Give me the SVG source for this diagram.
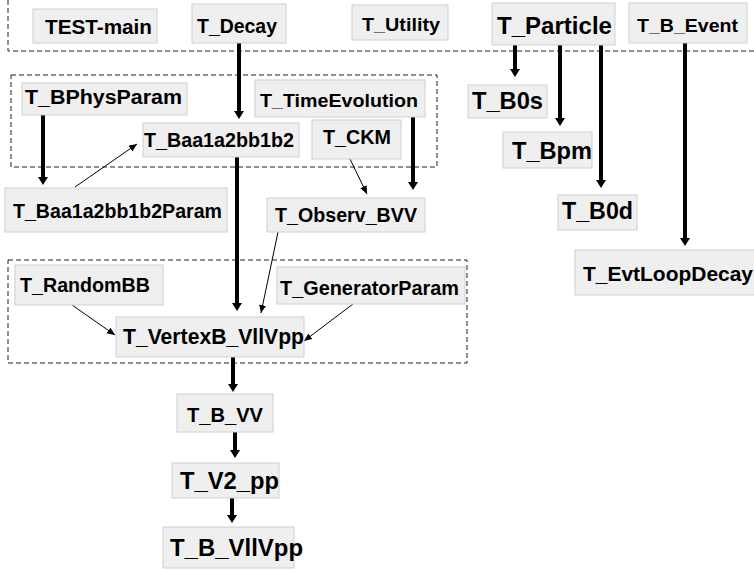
<svg xmlns="http://www.w3.org/2000/svg" width="754" height="571" viewBox="0 0 754 571">
<style>
.box{fill:#efefef;stroke:#d0d0d0;stroke-width:1}
.t{font-family:"Liberation Sans",Arial,sans-serif;font-weight:bold;fill:#000}
.grp{fill:none;stroke:#222;stroke-width:1;stroke-dasharray:5 3}
.thick{stroke:#000;stroke-width:4;fill:none;marker-end:url(#hk)}
.thin{stroke:#000;stroke-width:1;fill:none;marker-end:url(#hn)}
</style>
<defs>
<marker id="hk" markerUnits="userSpaceOnUse" markerWidth="10" markerHeight="10" refX="0" refY="5" orient="auto"><path d="M0,0 L8,5 L0,10 z" fill="#000"/></marker>
<marker id="hn" markerUnits="userSpaceOnUse" markerWidth="9" markerHeight="8" refX="8" refY="3.5" orient="auto"><path d="M0,0 L8,3.5 L0,7 z" fill="#000"/></marker>
</defs>
<rect width="754" height="571" fill="#fff"/>
<g id="groups">
<path class="grp" d="M8,0 V51 H754"/>
<rect class="grp" x="11" y="75" width="426" height="92"/>
<rect class="grp" x="8" y="260" width="459" height="103"/>
</g>
<g id="connectors">
<line class="thick" x1="239" y1="43" x2="239" y2="111"/>
<line class="thick" x1="43" y1="115" x2="43" y2="177"/>
<line class="thick" x1="237" y1="157" x2="237" y2="303"/>
<line class="thick" x1="413" y1="117" x2="413" y2="182"/>
<line class="thick" x1="515" y1="45" x2="515" y2="69"/>
<line class="thick" x1="560" y1="45" x2="560" y2="118"/>
<line class="thick" x1="601" y1="45" x2="601" y2="180"/>
<line class="thick" x1="685" y1="43" x2="685" y2="238"/>
<line class="thick" x1="233" y1="357" x2="233" y2="384"/>
<line class="thick" x1="235" y1="432" x2="235" y2="450"/>
<line class="thick" x1="232" y1="498" x2="232" y2="515"/>
<line class="thin" x1="75" y1="187" x2="137" y2="144"/>
<line class="thin" x1="350" y1="159" x2="367" y2="194"/>
<line class="thin" x1="278" y1="232" x2="261" y2="313"/>
<line class="thin" x1="72" y1="305" x2="115" y2="335"/>
<line class="thin" x1="353" y1="304" x2="304" y2="341"/>
</g>
<g id="TEST-main"><rect class="box" x="33" y="9" width="124" height="34"/><text class="t" x="45" y="34" font-size="20.5" textLength="107" lengthAdjust="spacingAndGlyphs">TEST-main</text></g>
<g id="T_Decay"><rect class="box" x="192" y="4" width="94" height="39"/><text class="t" x="197" y="33" font-size="19.5" textLength="80" lengthAdjust="spacingAndGlyphs">T_Decay</text></g>
<g id="T_Utility"><rect class="box" x="352" y="5" width="96" height="35"/><text class="t" x="362" y="31" font-size="19" textLength="78" lengthAdjust="spacingAndGlyphs">T_Utility</text></g>
<g id="T_Particle"><rect class="box" x="492" y="3" width="123" height="42"/><text class="t" x="497" y="34" font-size="24" textLength="115" lengthAdjust="spacingAndGlyphs">T_Particle</text></g>
<g id="T_B_Event"><rect class="box" x="629" y="3" width="118" height="40"/><text class="t" x="637" y="32" font-size="19" textLength="101" lengthAdjust="spacingAndGlyphs">T_B_Event</text></g>
<g id="T_BPhysParam"><rect class="box" x="22" y="83" width="165" height="32"/><text class="t" x="25" y="104" font-size="20" textLength="157" lengthAdjust="spacingAndGlyphs">T_BPhysParam</text></g>
<g id="T_TimeEvolution"><rect class="box" x="255" y="80" width="170" height="37"/><text class="t" x="260" y="107" font-size="18.5" textLength="158" lengthAdjust="spacingAndGlyphs">T_TimeEvolution</text></g>
<g id="T_Baa1a2bb1b2"><rect class="box" x="143" y="123" width="156" height="34"/><text class="t" x="144" y="147" font-size="19.5" textLength="150" lengthAdjust="spacingAndGlyphs">T_Baa1a2bb1b2</text></g>
<g id="T_CKM"><rect class="box" x="312" y="120" width="89" height="39"/><text class="t" x="323" y="144" font-size="19.5" textLength="68" lengthAdjust="spacingAndGlyphs">T_CKM</text></g>
<g id="T_Baa1a2bb1b2Param"><rect class="box" x="5" y="188" width="222" height="44"/><text class="t" x="13" y="218" font-size="19.5" textLength="209" lengthAdjust="spacingAndGlyphs">T_Baa1a2bb1b2Param</text></g>
<g id="T_Observ_BVV"><rect class="box" x="267" y="198" width="158" height="34"/><text class="t" x="275" y="222" font-size="19.5" textLength="142" lengthAdjust="spacingAndGlyphs">T_Observ_BVV</text></g>
<g id="T_B0s"><rect class="box" x="468" y="85" width="79" height="33"/><text class="t" x="472" y="109" font-size="24" textLength="71" lengthAdjust="spacingAndGlyphs">T_B0s</text></g>
<g id="T_Bpm"><rect class="box" x="503" y="132" width="89" height="36"/><text class="t" x="512" y="159" font-size="24" textLength="80" lengthAdjust="spacingAndGlyphs">T_Bpm</text></g>
<g id="T_B0d"><rect class="box" x="558" y="195" width="79" height="35"/><text class="t" x="562" y="219" font-size="24" textLength="71" lengthAdjust="spacingAndGlyphs">T_B0d</text></g>
<g id="T_EvtLoopDecay"><rect class="box" x="575" y="250" width="182" height="45"/><text class="t" x="583" y="281" font-size="21" textLength="170" lengthAdjust="spacingAndGlyphs">T_EvtLoopDecay</text></g>
<g id="T_RandomBB"><rect class="box" x="15" y="265" width="148" height="40"/><text class="t" x="20" y="292" font-size="19.5" textLength="130" lengthAdjust="spacingAndGlyphs">T_RandomBB</text></g>
<g id="T_GeneratorParam"><rect class="box" x="277" y="267" width="188" height="37"/><text class="t" x="280" y="295" font-size="19.5" textLength="179" lengthAdjust="spacingAndGlyphs">T_GeneratorParam</text></g>
<g id="T_VertexB_VllVpp"><rect class="box" x="116" y="317" width="188" height="40"/><text class="t" x="123" y="344" font-size="21.5" textLength="181" lengthAdjust="spacingAndGlyphs">T_VertexB_VllVpp</text></g>
<g id="T_B_VV"><rect class="box" x="177" y="394" width="96" height="38"/><text class="t" x="187" y="422" font-size="20" textLength="76" lengthAdjust="spacingAndGlyphs">T_B_VV</text></g>
<g id="T_V2_pp"><rect class="box" x="172" y="463" width="107" height="35"/><text class="t" x="180" y="489" font-size="24" textLength="99" lengthAdjust="spacingAndGlyphs">T_V2_pp</text></g>
<g id="T_B_VllVpp"><rect class="box" x="163" y="527" width="131" height="41"/><text class="t" x="170" y="556" font-size="24" textLength="133" lengthAdjust="spacingAndGlyphs">T_B_VllVpp</text></g>
</svg>
